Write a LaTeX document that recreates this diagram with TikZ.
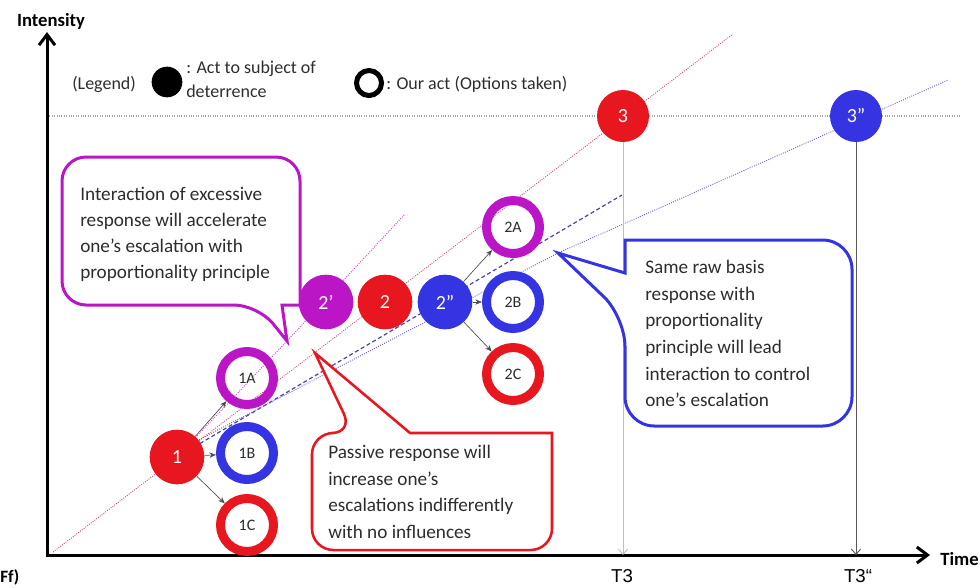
\documentclass[tikz,border=0pt]{standalone}
\usepackage{fontspec}
\setmainfont{Carlito}
\newfontfamily\arialfont{Liberation Sans}
\usetikzlibrary{arrows.meta,backgrounds}

\definecolor{actRed}{RGB}{232,22,30}
\definecolor{actPurple}{RGB}{186,22,198}
\definecolor{actBlue}{RGB}{52,52,226}
\definecolor{textGray}{RGB}{45,45,45}
\definecolor{pinkLine}{RGB}{205,80,120}
\definecolor{violetLine}{RGB}{120,90,210}
\definecolor{dashBlue}{RGB}{70,70,170}

\tikzset{
	actDot/.style={circle, fill=#1, minimum size=41pt, inner sep=0pt, text=white, font=\fontsize{15}{15}\selectfont},
	optRing/.style={circle, draw=#1, line width=6.75pt, minimum size=39.75pt, inner sep=0pt, text=textGray, font=\fontsize{12}{12}\selectfont},
	stepArrow/.style={draw=black!70, line width=0.5pt, -{Stealth[length=5pt,width=4pt]}},
	calloutText/.style={anchor=north west, inner sep=0pt, align=left, text=textGray},
	legendText/.style={inner sep=0pt, align=left, text=textGray, font=\fontsize{13.5}{18}\selectfont},
	trendDot/.style={draw=#1, densely dotted, line width=0.7pt},
	dropLine/.style={draw=#1, line width=0.7pt, -{Straight Barb[length=4pt,width=7pt]}}
}

\begin{document}
\begin{tikzpicture}[x=0.75pt, y=-0.75pt]
	\useasboundingbox (0,0) rectangle (980,587);

	% axes
	\coordinate (origin) at (47,555);
	\coordinate (timeEnd) at (930,555);
	\coordinate (intEnd) at (47,32);
	\draw[line width=2.25pt, {Straight Barb[length=8pt,width=12pt]}-{Straight Barb[length=8pt,width=12pt]}] (intEnd) -- (origin) -- (timeEnd);
	\node[anchor=base, inner sep=0pt, font=\bfseries\fontsize{14}{14}\selectfont](intLabel) at (51,26){Intensity};
	\node[anchor=base west, inner sep=0pt, font=\bfseries\fontsize{14}{14}\selectfont](timeLabel) at (940,565){Time};
	\node[anchor=base west, inner sep=0pt, font=\bfseries\fontsize{13}{13}\selectfont](cutLabel) at (0,582){Ff)};

	% legend
	\node[legendText, anchor=base west](legendTag) at (72,89){(Legend)};
	\node[circle, fill=black, minimum size=23pt, inner sep=0pt](legendAct) at (167,82){};
	\node[legendText, anchor=base west](legendActText) at (186,97){: Act to subject of\\deterrence};
	\node[circle, draw=black, line width=3.75pt, minimum size=18.75pt, inner sep=0pt](legendOpt) at (369,83){};
	\node[legendText, anchor=base west](legendOptText) at (386,89){: Our act (Options taken)};

	% acts of the subject of deterrence
	\node[actDot=actRed](actOne) at (177,457){1};
	\node[actDot=actPurple](actTwoP) at (326,302){2’};
	\node[actDot=actRed](actTwo) at (385,302){2};
	\node[actDot=actBlue](actTwoPP) at (445,302){2”};
	\node[actDot=actRed, minimum size=39pt](actThree) at (623,116){3};
	\node[actDot=actBlue, minimum size=39pt](actThreePP) at (856,116){3”};

	% our options
	\node[optRing=actPurple](optOneA) at (247,378){1A};
	\node[optRing=actBlue](optOneB) at (247,453){1B};
	\node[optRing=actRed](optOneC) at (247,525){1C};
	\node[optRing=actPurple](optTwoA) at (513,227){2A};
	\node[optRing=actBlue](optTwoB) at (513,302){2B};
	\node[optRing=actRed](optTwoC) at (513,374){2C};

	\draw[stepArrow](actOne) -- (optOneA);
	\draw[stepArrow](actOne) -- (optOneB);
	\draw[stepArrow](actOne) -- (optOneC);
	\draw[stepArrow](actTwoPP) -- (optTwoA);
	\draw[stepArrow](actTwoPP) -- (optTwoB);
	\draw[stepArrow](actTwoPP) -- (optTwoC);

	\draw[dropLine=black!25](actThree) -- (actThree |- origin);
	\draw[dropLine=black!65](actThreePP) -- (actThreePP |- origin);
	\node[anchor=base, inner sep=0pt, font=\arialfont\fontsize{14}{14}\selectfont](tThree) at (622,582){T3};
	\node[anchor=base, inner sep=0pt, font=\arialfont\fontsize{14}{14}\selectfont](tThreePP) at (858,582){T3“};

	% callout tips
	\coordinate (purpTip) at (287,341);
	\coordinate (redTip) at (315,353);
	\coordinate (blueTip) at (558,253);

	% trend lines
	\begin{scope}[on background layer]
		\draw[black!35, densely dotted, line width=0.8pt] (origin |- actThree) -- (960,116);
		\draw[trendDot=pinkLine] (53,552) -- (733,34);
		\draw[trendDot=actPurple!80] (actOne.center) -- (purpTip) -- (405,214);
		\draw[draw=dashBlue, dashed, dash pattern=on 3pt off 2pt, line width=0.9pt] (actOne.center) -- (622,195);
		\draw[trendDot=violetLine] (185,447) -- (blueTip) -- (948,80);
	\end{scope}

	% callouts
	\draw[actPurple, line width=2.25pt, fill=white] (purpTip) -- (282,305) -- (300,305) [rounded corners=18] -- (300,157) -- (62,157) -- (62,305) -- (258,305) [sharp corners] -- cycle;
	\node[calloutText, font=\fontsize{14.4}{19.5}\selectfont](purpNote) at (80,187){Interaction of excessive\\response will accelerate\\one’s escalation with\\proportionality principle};

	\draw[actRed, line width=1.9pt, fill=white] (redTip) -- (410,433) -- (552,433) [rounded corners=16] -- (552,550) -- (312,550) -- (312,433) -- (353,433) [sharp corners] -- cycle;
	\node[calloutText, font=\fontsize{14.4}{20}\selectfont](redNote) at (328,445){Passive response will\\increase one’s\\escalations indifferently\\with no influences};

	\draw[actBlue, line width=2.25pt, fill=white] (blueTip) -- (625,273) -- (625,240) [rounded corners=22] -- (852,240) -- (852,426) -- (625,426) -- (625,317) [sharp corners] -- cycle;
	\node[calloutText, font=\fontsize{14.4}{20}\selectfont](blueNote) at (645,260){Same raw basis\\response with\\proportionality\\principle will lead\\interaction to control\\one’s escalation};
\end{tikzpicture}
\end{document}
